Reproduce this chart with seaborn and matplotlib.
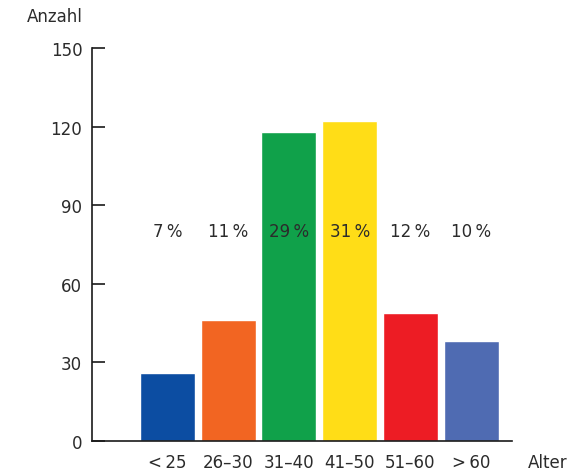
import pandas as pd
import matplotlib.pyplot as plt
import seaborn as sns

# Altersgruppen und Anzahl
alter = ['<\u200925', '26–30', '31–40', '41–50', '51–60', '>\u200960']
anzahl = [26, 46, 118, 122, 49, 38]
prozent = ['7\u2009%', '11\u2009%', '29\u2009%', '31\u2009%', '12\u2009%', '10\u2009%']
farben = ['#0c4da2', '#f26522', '#10a14a', '#ffdd17', '#ed1c24', '#4f6bb2']

df = pd.DataFrame({'Alter': alter, 'Anzahl': anzahl})

sns.set_style('white')
plt.rcParams['font.family'] = ['DejaVu Sans']
text_col = '#2b2b2b'
fs = 12

fig = plt.figure(figsize=(5.81, 4.77), dpi=100)
ax = fig.add_axes([0.1583, 0.0734, 0.7229, 0.8239])

sns.barplot(data=df, x='Alter', y='Anzahl', hue='Alter', palette=farben,
            legend=False, width=0.906, saturation=1, ax=ax)

# Prozentwerte auf gleicher Hoehe
for i, p in enumerate(prozent):
    ax.text(i, 80, p, ha='center', va='center', fontsize=fs, color=text_col)

ax.set_xlim(-1.24, 5.67)
ax.set_ylim(0, 150)
ax.set_yticks([0, 30, 60, 90, 120, 150])
ax.set_xlabel('')
ax.set_ylabel('')

sns.despine(ax=ax)
for s in ['left', 'bottom']:
    ax.spines[s].set_color('#1a1a1a')
    ax.spines[s].set_linewidth(1.2)

ax.tick_params(axis='y', left=True, direction='in', length=9, width=1.2,
               color='#1a1a1a', labelsize=fs, labelcolor=text_col, pad=7)
ax.tick_params(axis='x', bottom=False, length=0, labelsize=fs,
               labelcolor=text_col, pad=9)

fig.text(27 / 581, 1 - 17 / 477, 'Anzahl', ha='left', va='center',
         fontsize=fs, color=text_col)
fig.text(548 / 581, 1 - 463 / 477, 'Alter', ha='center', va='center',
         fontsize=fs, color=text_col)

fig.savefig('out.png', dpi=100)
